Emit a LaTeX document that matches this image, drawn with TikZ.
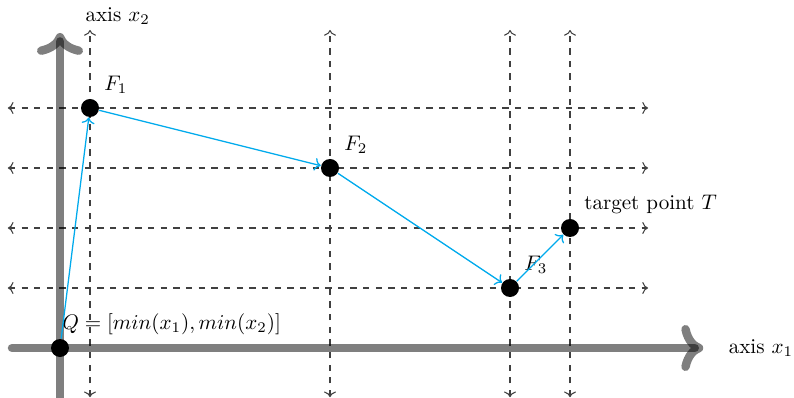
\documentclass[tikz,border=0pt]{standalone}
\usepackage{tikz}
\usetikzlibrary{arrows.meta,positioning,calc}
\definecolor{pathblue}{RGB}{0,170,236}
\tikzset{every picture/.style={line width=0.5pt}}

\begin{document}
\begin{tikzpicture}[
    dot/.style={circle, fill=black, inner sep=0pt, minimum size=0.3cm},
    gridline/.style={dashed, <->, black!75},
    axisline/.style={line width=4pt, ->, black, opacity=0.5, line cap=round},
    move/.style={->, pathblue, line width=0.6pt}]
    \useasboundingbox (-1,-0.833) rectangle (12.233,5.8);

    % Gitterlinien
    \foreach \x in {0.5,4.5,7.5,8.5}
        \draw[gridline] (\x,-0.82) -- (\x,5.3);
    \foreach \y in {1,2,3,4}
        \draw[gridline] (-0.87,\y) -- (9.8,\y);

    % Achsen
    \coordinate (xstart) at (-0.8,0);
    \coordinate (xend) at (10.72,0);
    \coordinate (ystart) at (0,-1);
    \coordinate (yend) at (0,5.25);
    \draw[axisline] (ystart) -- (yend);
    \draw[axisline] (xstart) -- (xend);
    \node[right=0.3cm of xend] (xlabel) {axis $x_1$};
    \node[above right=0.02cm and 0.3cm of yend] (ylabel) {axis $x_2$};

    % Punkte
    \node[dot] (Q) at (0,0) {};
    \node[dot, label={above right:$F_1$}] (F1) at (0.5,4) {};
    \node[dot, label={above right:$F_2$}] (F2) at (4.5,3) {};
    \node[dot, label={above right:$F_3$}] (F3) at (7.5,1) {};
    \node[dot, label={above right:target point $T$}] (T) at (8.5,2) {};
    \node[above right=0.22cm and 0.03cm of Q.center, inner sep=0pt] (qlabel)
        {$Q = [min(x_1), min(x_2)]$};

    % Weg
    \draw[move] (Q) -- (F1);
    \draw[move] (F1) -- (F2);
    \draw[move] (F2) -- (F3);
    \draw[move] (F3) -- (T);
\end{tikzpicture}
\end{document}
